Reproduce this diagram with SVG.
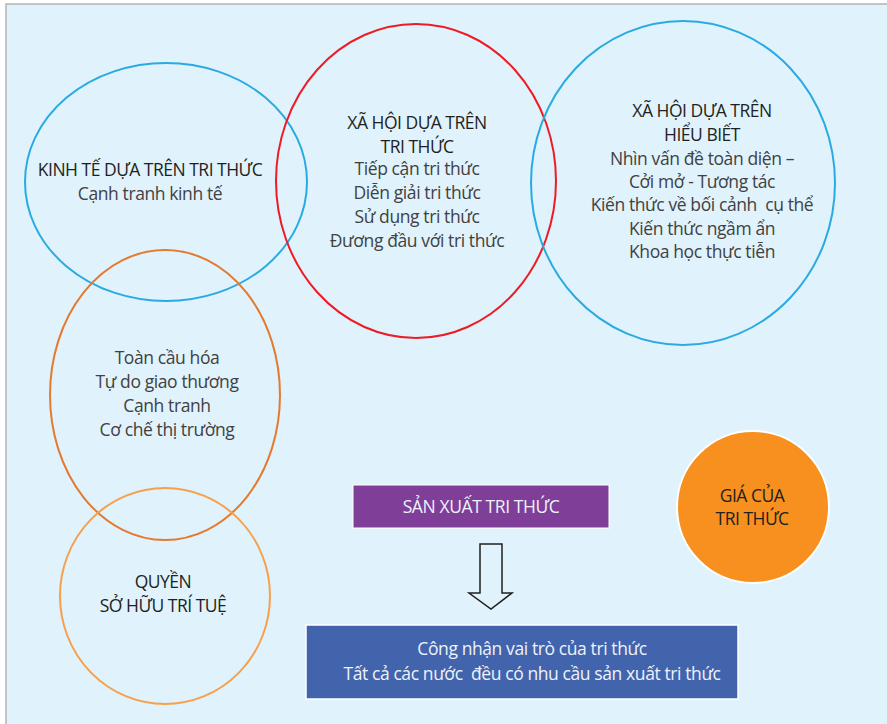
<svg xmlns="http://www.w3.org/2000/svg" width="887" height="724" viewBox="0 0 887 724">
  <style>
    .ring { fill: none; stroke-width: 2; }
    .title { font-family: "Open Sans", "Noto Sans", sans-serif; font-size: 17.5px; font-weight: 500; fill: #231f20; text-anchor: middle; letter-spacing: -0.5px; }
    .body { font-family: "Open Sans", "Noto Sans", sans-serif; font-size: 17.5px; font-weight: 400; fill: #414141; text-anchor: middle; letter-spacing: -0.4px; }
    .light { font-family: "Open Sans", "Noto Sans", sans-serif; font-size: 17.5px; font-weight: 400; fill: #eef2fa; text-anchor: middle; letter-spacing: -0.4px; }
  </style>

  <!-- page -->
  <rect x="0" y="0" width="887" height="724" fill="#ffffff"/>
  <rect x="6" y="4" width="881" height="720" fill="#e0f2fc"/>
  <path d="M6 724 V4 H887" fill="none" stroke="#b4b4b4" stroke-width="1.5"/>

  <!-- rings -->
  <g id="kinh-te">
    <ellipse class="ring" cx="166" cy="182" rx="141" ry="119" stroke="#29abe2"/>
    <text class="title" x="150" y="176">KINH TẾ DỰA TRÊN TRI THỨC</text>
    <text class="body" x="150" y="200">Cạnh tranh kinh tế</text>
  </g>

  <g id="xa-hoi-tri-thuc">
    <ellipse class="ring" cx="416" cy="181" rx="140" ry="157" stroke="#ed1c24"/>
    <text class="title" x="417" y="129">XÃ HỘI DỰA TRÊN</text>
    <text class="title" x="417" y="153">TRI THỨC</text>
    <text class="body" x="417" y="175">Tiếp cận tri thức</text>
    <text class="body" x="417" y="199">Diễn giải tri thức</text>
    <text class="body" x="417" y="223">Sử dụng tri thức</text>
    <text class="body" x="417" y="247">Đương đầu với tri thức</text>
  </g>

  <g id="xa-hoi-hieu-biet">
    <ellipse class="ring" cx="683" cy="183" rx="152" ry="162" stroke="#29abe2"/>
    <text class="title" x="702" y="117">XÃ HỘI DỰA TRÊN</text>
    <text class="title" x="702" y="141">HIỂU BIẾT</text>
    <text class="body" x="702" y="165">Nhìn vấn đề toàn diện –</text>
    <text class="body" x="702" y="188">Cởi mở - Tương tác</text>
    <text class="body" x="702" y="211" xml:space="preserve">Kiến thức về bối cảnh  cụ thể</text>
    <text class="body" x="702" y="235">Kiến thức ngầm ẩn</text>
    <text class="body" x="702" y="258">Khoa học thực tiễn</text>
  </g>

  <g id="toan-cau-hoa">
    <ellipse class="ring" cx="165" cy="395" rx="115" ry="145" stroke="#e57a2e"/>
    <text class="body" x="167" y="364">Toàn cầu hóa</text>
    <text class="body" x="167" y="388">Tự do giao thương</text>
    <text class="body" x="167" y="412">Cạnh tranh</text>
    <text class="body" x="167" y="436">Cơ chế thị trường</text>
  </g>

  <g id="so-huu-tri-tue">
    <ellipse class="ring" cx="165" cy="596" rx="105" ry="108" stroke="#f7a04b"/>
    <text class="title" x="163" y="588">QUYỀN</text>
    <text class="title" x="163" y="612">SỞ HỮU TRÍ TUỆ</text>
  </g>

  <g id="san-xuat">
    <rect x="353" y="485" width="256" height="43" fill="#7f3f98" stroke="#ffffff" stroke-width="1"/>
    <text class="light" x="481" y="513" fill="#ffffff">SẢN XUẤT TRI THỨC</text>
  </g>

  <g id="cong-nhan">
    <rect x="306" y="625" width="432" height="74" fill="#4264ac" stroke="#ffffff" stroke-width="1.5"/>
    <text class="light" x="532" y="655">Công nhận vai trò của tri thức</text>
    <text class="light" x="532" y="680" xml:space="preserve">Tất cả các nước  đều có nhu cầu sản xuất tri thức</text>
  </g>

  <g id="gia-tri-thuc">
    <circle cx="753" cy="507" r="76" fill="#f7901e" stroke="#ffffff" stroke-width="2"/>
    <text class="title" x="752" y="502">GIÁ CỦA</text>
    <text class="title" x="752" y="525">TRI THỨC</text>
  </g>

  <!-- connectors -->
  <g id="connectors">
    <path d="M480 544 H502 V593 H512 L491 609 L469 593 H480 Z" fill="none" stroke="#231f20" stroke-width="1.5" stroke-linejoin="miter"/>
  </g>
</svg>
